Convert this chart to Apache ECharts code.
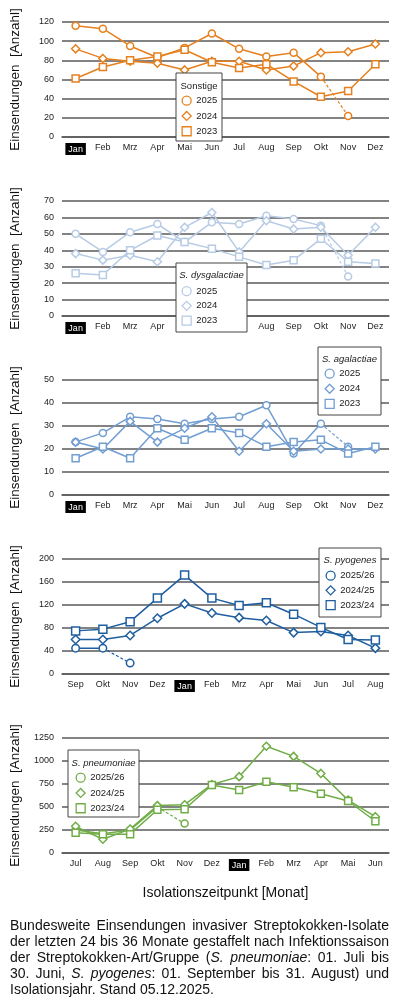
<!DOCTYPE html>
<html><head><meta charset="utf-8">
<script src="https://cdn.jsdelivr.net/npm/echarts@6/dist/echarts.min.js"></script>
<style>html,body{margin:0;padding:0;background:#fff}#c{width:400px;height:1008px}</style>
</head><body><div id="c"></div>
<script>
// ---- categories ----
const monthsJan = ['Jan','Feb','Mrz','Apr','Mai','Jun','Jul','Aug','Sep','Okt','Nov','Dez'];
const monthsSep = ['Sep','Okt','Nov','Dez','Jan','Feb','Mrz','Apr','Mai','Jun','Jul','Aug'];
const monthsJul = ['Jul','Aug','Sep','Okt','Nov','Dez','Jan','Feb','Mrz','Apr','Mai','Jun'];

// ---- series values ----
const sonstige2025 = [116,113,95,83,93,108,92,84,88,63,22,null];
const sonstige2024 = [92,82,79,77,70,79,79,70,74,88,89,97];
const sonstige2023 = [61,73,80,84,91,78,72,76,58,42,48,76];

const dysga2025 = [50,39,51,56,45,57,56,61,59,55,24,null];
const dysga2024 = [38,34,37,33,54,63,39,58,53,54,37,54];
const dysga2023 = [26,25,40,49,45,41,36,31,34,47,33,32];

const agal2025 = [23,27,34,33,31,33,34,39,18,31,21,null];
const agal2024 = [23,20,32,23,29,34,19,31,19,20,20,20];
const agal2023 = [16,21,16,29,24,29,27,21,23,24,18,21];

const pyo2526 = [45,45,19,null,null,null,null,null,null,null,null,null];
const pyo2425 = [60,60,67,97,122,106,98,93,72,74,67,45];
const pyo2324 = [75,78,91,132,172,132,119,124,104,81,60,59];

const pneu2526 = [250,210,250,500,320,null,null,null,null,null,null,null];
const pneu2425 = [290,150,260,515,525,745,830,1160,1050,865,575,395];
const pneu2324 = [220,205,205,470,475,740,685,775,715,645,565,345];

// ---- legend labels / titles ----
const namesYear = ['2025','2024','2023'];
const namesSeason = ['2025/26','2024/25','2023/24'];
const yAxisName = 'Einsendungen  [Anzahl]';
const xAxisName = 'Isolationszeitpunkt [Monat]';
const captionText = [
  'Bundesweite Einsendungen invasiver Streptokokken-Isolate',
  'der letzten 24 bis 36 Monate gestaffelt nach Infektionssaison',
  'der Streptokokken-Art/Gruppe (_S._ _pneumoniae_: 01. Juli bis',
  '30. Juni, _S._ _pyogenes_: 01. September bis 31. August) und',
  'Isolationsjahr. Stand 05.12.2025.'
];

const FONT = '"Liberation Sans", Arial, sans-serif';
const GRID = '#5a5a5a';
const symbols = ['circle','diamond','rect'];

const panels = [
  {cats:monthsJan, top:22, max:120, interval:20, color:'#E6801E', title:'Sonstige', italic:false,
   names:namesYear, data:[sonstige2025,sonstige2024,sonstige2023], box:[176,73,222,141], titleY:86, item0:101, step:16, iconX:186, sym:[7,8,7]},
  {cats:monthsJan, top:201, max:70, interval:10, color:'#B7CBE5', title:'S. dysgalactiae', italic:true,
   names:namesYear, data:[dysga2025,dysga2024,dysga2023], box:[176,263,247,332], titleY:275, item0:291.5, step:15.4, iconX:186, sym:[7,8,7]},
  {cats:monthsJan, top:380, max:50, interval:10, color:'#729ED1', title:'S. agalactiae', italic:true,
   names:namesYear, data:[agal2025,agal2024,agal2023], box:[318,347,381,415], titleY:359, item0:374, step:15.8, iconX:329, sym:[7,8,7]},
  {cats:monthsSep, top:559, max:200, interval:40, color:'#1F5E9F', title:'S. pyogenes', italic:true,
   names:namesSeason, data:[pyo2526,pyo2425,pyo2324], box:[319,548,381,617], titleY:560, item0:576, step:15.4, iconX:330, sym:[7.5,8.5,8]},
  {cats:monthsJul, top:738, max:1250, interval:250, color:'#70AD47', title:'S. pneumoniae', italic:true,
   names:namesSeason, data:[pneu2526,pneu2425,pneu2324], box:[68,750,139,817], titleY:763, item0:778, step:16, iconX:80, sym:[7,8,7]}
];

const grids=[], xAxes=[], yAxes=[], series=[], legends=[], graphics=[];
panels.forEach((P,p)=>{
  grids.push({left:62, width:327, top:P.top, height:115});
  xAxes.push({
    gridIndex:p, type:'category', data:P.cats, boundaryGap:true,
    axisLine:{show:true, lineStyle:{color:GRID, width:1.5}}, axisTick:{show:false},
    axisLabel:{interval:0, fontSize:9, color:'#222', fontFamily:FONT, margin:6,
      formatter:v=> v==='Jan' ? '{hl|Jan}' : v,
      rich:{hl:{backgroundColor:'#000', color:'#fff', padding:[2,3,1,3], fontSize:9, fontFamily:FONT}}},
    name: p===4 ? xAxisName : '', nameLocation:'middle', nameGap:33,
    nameTextStyle:{fontSize:14, color:'#111', fontFamily:FONT}
  });
  yAxes.push({
    gridIndex:p, type:'value', min:0, max:P.max, interval:P.interval,
    axisLine:{show:false}, axisTick:{show:false},
    splitLine:{show:true, lineStyle:{color:GRID, width:1.5}},
    axisLabel:{fontSize:9, color:'#222', fontFamily:FONT, margin:8, formatter:v=>String(v)},
    name:yAxisName, nameLocation:'middle', nameGap:40,
    nameTextStyle:{fontSize:13.5, color:'#111', fontFamily:FONT}
  });
  P.data.forEach((vals,k)=>{
    const nm = P.names[k]+'|'+p;
    const base = {
      type:'line', name:nm, xAxisIndex:p, yAxisIndex:p, symbol:symbols[k], symbolSize:P.sym[k],
      showAllSymbol:true, animation:false, silent:true, z:3,
      lineStyle:{color:P.color, width:1.5},
      itemStyle:{color:'#fff', borderColor:P.color, borderWidth:1.5},
      emphasis:{disabled:true}
    };
    if(k===0){
      let last=-1; vals.forEach((v,i)=>{ if(v!=null) last=i; });
      const solid = vals.map((v,i)=> i===last ? null : v);
      const dashed = vals.map((v,i)=> i===last ? v : (i===last-1 ? {value:v, symbol:'none'} : null));
      series.push(Object.assign({}, base, {data:solid}));
      series.push(Object.assign({}, base, {data:dashed, lineStyle:{color:P.color, width:1.2, type:[3,2]}}));
    } else {
      series.push(Object.assign({}, base, {data:vals}));
    }
  });
  legends.push({
    orient:'vertical', left:P.iconX-4.5, top:P.item0-5.5, padding:0, z:10,
    itemWidth:9, itemHeight:9, itemGap:P.step-11, selectedMode:false,
    textStyle:{fontSize:9.5, color:'#222', fontFamily:FONT},
    formatter:n=>n.split('|')[0],
    data:P.names.map((n,k)=>({name:n+'|'+p, icon:symbols[k],
      itemStyle:{color:'#fff', borderColor:P.color, borderWidth:1.3}}))
  });
  const b=P.box;
  graphics.push({type:'rect', z:8, shape:{x:b[0], y:b[1], width:b[2]-b[0], height:b[3]-b[1]},
    style:{fill:'#fff', stroke:'#444', lineWidth:1}});
  graphics.push({type:'text', z:12, x:(b[0]+b[2])/2, y:P.titleY,
    style:{text:P.title, fontSize:9.5, fontStyle:P.italic?'italic':'normal', fontFamily:FONT, fill:'#222',
      align:'center', verticalAlign:'middle', textAlign:'center', textVerticalAlign:'middle'}});
});

// ---- caption (justified) ----
const cv = document.createElement('canvas').getContext('2d');
const CAP_SIZE = 14, CAP_X0 = 10, CAP_X1 = 389, CAP_Y0 = 926, CAP_LH = 16;
function segFont(it){ return (it?'italic ':'')+CAP_SIZE+'px '+FONT; }
captionText.forEach((line,li)=>{
  const words = line.split(' ').map(w=> w.split('_').map((t,j)=>({t, it: j%2===1})).filter(s=>s.t.length));
  const widths = words.map(w=> w.map(s=>{cv.font=segFont(s.it); return cv.measureText(s.t).width;}));
  const total = widths.reduce((a,w)=>a+w.reduce((x,y)=>x+y,0),0);
  cv.font=segFont(false); const sp = cv.measureText(' ').width;
  const justify = li < captionText.length-1;
  const gap = justify ? (CAP_X1-CAP_X0-total)/(words.length-1) : sp;
  let x = CAP_X0;
  words.forEach((w,wi)=>{
    w.forEach((s,si)=>{
      graphics.push({type:'text', z:12, x:x, y:CAP_Y0+li*CAP_LH,
        style:{text:s.t, fontSize:CAP_SIZE, fontStyle:s.it?'italic':'normal', fontFamily:FONT, fill:'#111',
          align:'left', verticalAlign:'middle', textAlign:'left', textVerticalAlign:'middle'}});
      x += widths[wi][si];
    });
    x += gap;
  });
});

const chart = echarts.init(document.getElementById('c'), null, {renderer:'canvas'});
chart.setOption({
  backgroundColor:'#fff', animation:false,
  grid:grids, xAxis:xAxes, yAxis:yAxes, series:series, legend:legends,
  graphic:{elements:graphics}
});
</script></body></html>
